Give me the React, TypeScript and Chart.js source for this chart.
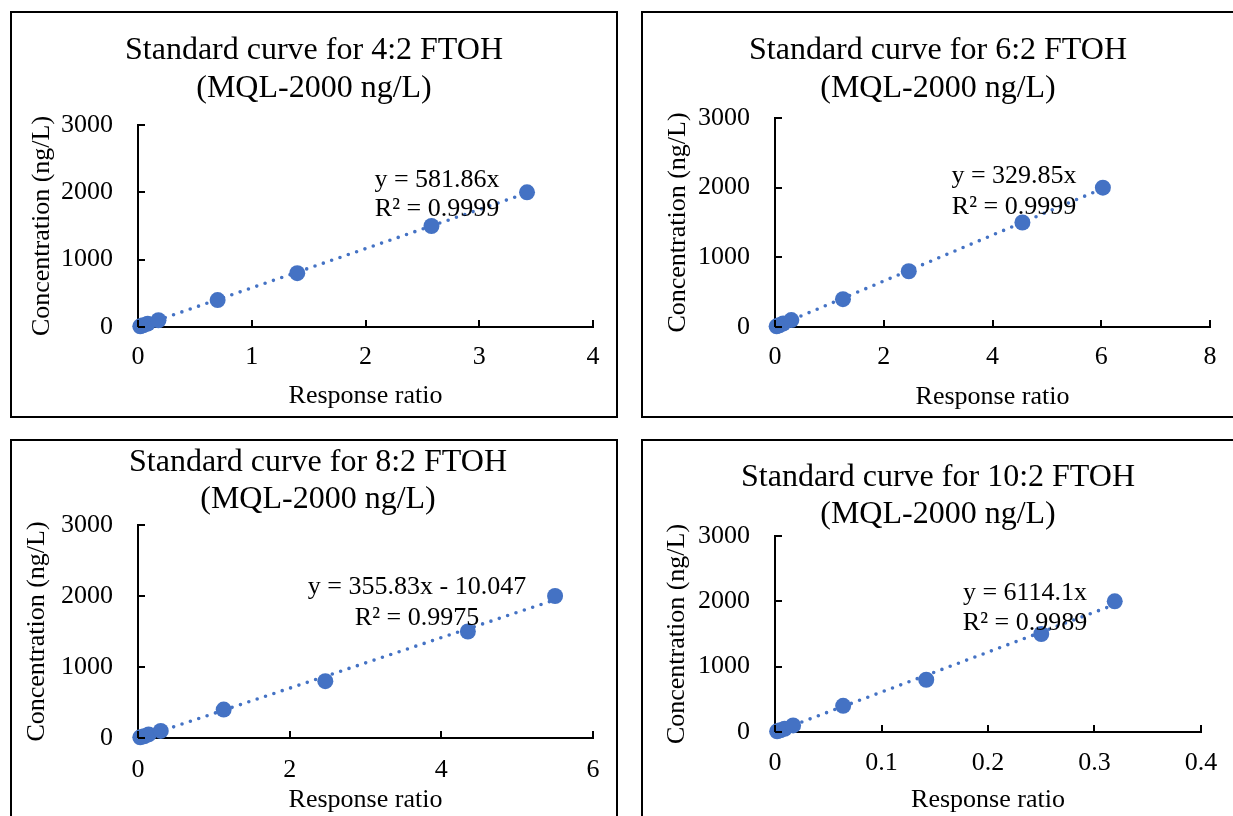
import React, { useEffect, useRef } from 'react';
import { Chart, registerables } from 'chart.js';

Chart.register(...registerables);

// ---------- data ----------
const concentrations = [10, 25, 50, 100, 400, 800, 1500, 2000];

const ratio42 = [0.02, 0.045, 0.085, 0.18, 0.70, 1.40, 2.58, 3.42];
const ratio62 = [0.03, 0.08, 0.15, 0.30, 1.25, 2.46, 4.55, 6.03];
const ratio82 = [0.03, 0.08, 0.14, 0.30, 1.13, 2.47, 4.35, 5.50];
const ratio102 = [0.002, 0.005, 0.009, 0.017, 0.064, 0.142, 0.25, 0.319];

const slopes = [581.86, 329.85, 355.83, 6114.1];
const intercepts = [0, 0, -10.047, 0];

const titleLines42 = ['Standard curve for 4:2 FTOH', '(MQL-2000 ng/L)'];
const titleLines62 = ['Standard curve for 6:2 FTOH', '(MQL-2000 ng/L)'];
const titleLines82 = ['Standard curve for 8:2 FTOH', '(MQL-2000 ng/L)'];
const titleLines102 = ['Standard curve for 10:2 FTOH', '(MQL-2000 ng/L)'];

const eqLines42 = ['y = 581.86x', 'R² = 0.9999'];
const eqLines62 = ['y = 329.85x', 'R² = 0.9999'];
const eqLines82 = ['y = 355.83x - 10.047', 'R² = 0.9975'];
const eqLines102 = ['y = 6114.1x', 'R² = 0.9989'];

const xTicks42 = [0, 1, 2, 3, 4];
const xTickLabels42 = ['0', '1', '2', '3', '4'];
const xTicks62 = [0, 2, 4, 6, 8];
const xTickLabels62 = ['0', '2', '4', '6', '8'];
const xTicks82 = [0, 2, 4, 6];
const xTickLabels82 = ['0', '2', '4', '6'];
const xTicks102 = [0, 0.1, 0.2, 0.3, 0.4];
const xTickLabels102 = ['0', '0.1', '0.2', '0.3', '0.4'];

const yTicks = [0, 1000, 2000, 3000];
const yTickLabels = ['0', '1000', '2000', '3000'];

const xAxisTitle = 'Response ratio';
const yAxisTitle = 'Concentration (ng/L)';

// ---------- styling / layout ----------
const BLUE = '#4472C4';
const FAMILY = '"Times New Roman", "Liberation Serif", serif';

type Spec = {
  box: { left: number; top: number; width: number; height: number };
  chart: { left: number; right: number; top: number; bottom: number };
  ratios: number[];
  slope: number;
  intercept: number;
  title: string[];
  titleX: number;
  titleY: number[];
  eq: string[];
  eqX: number;
  eqY: number[];
  xTicks: number[];
  xTickLabels: string[];
  xTickPad: number;
  xTitlePad: number;
  yTitlePad: number;
};

const specs: Spec[] = [
  {
    box: { left: 10, top: 11, width: 608, height: 407 },
    chart: { left: 126, right: 581, top: 112, bottom: 314 },
    ratios: ratio42, slope: slopes[0], intercept: intercepts[0],
    title: titleLines42, titleX: 302, titleY: [38, 76],
    eq: eqLines42, eqX: 425, eqY: [167, 196],
    xTicks: xTicks42, xTickLabels: xTickLabels42,
    xTickPad: 15, xTitlePad: 4, yTitlePad: 15,
  },
  {
    box: { left: 641, top: 11, width: 596, height: 407 },
    chart: { left: 132, right: 567, top: 105, bottom: 314 },
    ratios: ratio62, slope: slopes[1], intercept: intercepts[1],
    title: titleLines62, titleX: 295, titleY: [38, 76],
    eq: eqLines62, eqX: 371, eqY: [163, 194],
    xTicks: xTicks62, xTickLabels: xTickLabels62,
    xTickPad: 15, xTitlePad: 3, yTitlePad: 20,
  },
  {
    box: { left: 10, top: 439, width: 608, height: 407 },
    chart: { left: 126, right: 581, top: 84, bottom: 297 },
    ratios: ratio82, slope: slopes[2], intercept: intercepts[2],
    title: titleLines82, titleX: 306, titleY: [22, 59],
    eq: eqLines82, eqX: 405, eqY: [146, 177],
    xTicks: xTicks82, xTickLabels: xTickLabels82,
    xTickPad: 16.5, xTitlePad: 28, yTitlePad: 10,
  },
  {
    box: { left: 641, top: 439, width: 596, height: 407 },
    chart: { left: 132, right: 558, top: 95, bottom: 291 },
    ratios: ratio102, slope: slopes[3], intercept: intercepts[3],
    title: titleLines102, titleX: 295, titleY: [37, 73.5],
    eq: eqLines102, eqX: 382, eqY: [152, 182],
    xTicks: xTicks102, xTickLabels: xTickLabels102,
    xTickPad: 16, xTitlePad: 28, yTitlePad: 19,
  },
];

function Panel({ spec }: { spec: Spec }) {
  const ref = useRef<HTMLCanvasElement>(null);
  const W = spec.box.width - 4;
  const H = spec.box.height - 4;

  useEffect(() => {
    const canvas = ref.current;
    if (!canvas) return;
    const c = spec.chart;
    const pts = spec.ratios.map((x, i) => ({ x, y: concentrations[i] }));
    const xMin = Math.min(...spec.ratios);
    const xMax = Math.max(...spec.ratios);
    const trend = [
      { x: xMin, y: spec.slope * xMin + spec.intercept },
      { x: xMax, y: spec.slope * xMax + spec.intercept },
    ];
    const bodyFont = { family: FAMILY, size: 26, lineHeight: 1.2 };

    const overlay = {
      id: 'overlay' + spec.box.left + spec.box.top,
      afterDraw(chart: any) {
        const { ctx, chartArea, scales } = chart;
        ctx.save();
        ctx.strokeStyle = '#000';
        ctx.lineWidth = 2;
        // inside tick marks
        scales.x.ticks.forEach((t: any) => {
          const px = Math.round(scales.x.getPixelForValue(t.value));
          ctx.beginPath();
          ctx.moveTo(px, chartArea.bottom);
          ctx.lineTo(px, chartArea.bottom - 7);
          ctx.stroke();
        });
        scales.y.ticks.forEach((t: any) => {
          const py = Math.round(scales.y.getPixelForValue(t.value));
          ctx.beginPath();
          ctx.moveTo(chartArea.left, py);
          ctx.lineTo(chartArea.left + 7, py);
          ctx.stroke();
        });
        // chart title
        ctx.fillStyle = '#000';
        ctx.textAlign = 'center';
        ctx.textBaseline = 'middle';
        ctx.font = `32px ${FAMILY}`;
        spec.title.forEach((line, i) => ctx.fillText(line, spec.titleX, spec.titleY[i]));
        // trendline equation
        ctx.font = `26px ${FAMILY}`;
        spec.eq.forEach((line, i) => ctx.fillText(line, spec.eqX, spec.eqY[i]));
        ctx.restore();
      },
    };

    const chart = new Chart(canvas, {
      type: 'scatter',
      data: {
        datasets: [
          {
            data: pts,
            backgroundColor: BLUE,
            borderColor: BLUE,
            borderWidth: 0,
            pointRadius: 8,
            pointHoverRadius: 8,
            clip: false,
            order: 1,
          } as any,
          {
            data: trend,
            showLine: true,
            borderColor: BLUE,
            borderWidth: 3.6,
            borderDash: [0, 8.8],
            borderCapStyle: 'round',
            pointRadius: 0,
            pointHoverRadius: 0,
            fill: false,
            clip: false,
            order: 2,
          } as any,
        ],
      },
      options: {
        responsive: false,
        animation: false,
        devicePixelRatio: 1,
        events: [],
        layout: { padding: { left: 0, top: c.top, right: W - c.right, bottom: 0 } },
        plugins: {
          legend: { display: false },
          tooltip: { enabled: false },
          title: { display: false },
        },
        scales: {
          x: {
            type: 'linear',
            position: 'bottom',
            min: spec.xTicks[0],
            max: spec.xTicks[spec.xTicks.length - 1],
            grid: { display: false, drawTicks: false },
            border: { display: true, color: '#000', width: 2 },
            ticks: {
              color: '#000',
              font: bodyFont,
              padding: spec.xTickPad,
              autoSkip: false,
              maxRotation: 0,
              minRotation: 0,
              callback: (_v: any, i: number) => spec.xTickLabels[i],
            },
            afterBuildTicks: (s: any) => {
              s.ticks = spec.xTicks.map((v) => ({ value: v }));
            },
            afterFit: (s: any) => {
              s.height = H - c.bottom;
            },
            title: {
              display: true,
              text: xAxisTitle,
              color: '#000',
              font: bodyFont,
              padding: { top: 0, bottom: spec.xTitlePad },
            },
          },
          y: {
            type: 'linear',
            position: 'left',
            min: yTicks[0],
            max: yTicks[yTicks.length - 1],
            grid: { display: false, drawTicks: false },
            border: { display: true, color: '#000', width: 2 },
            ticks: {
              color: '#000',
              font: bodyFont,
              padding: 25,
              callback: (_v: any, i: number) => yTickLabels[i],
            },
            afterBuildTicks: (s: any) => {
              s.ticks = yTicks.map((v) => ({ value: v }));
            },
            afterFit: (s: any) => {
              s.width = c.left;
            },
            title: {
              display: true,
              text: yAxisTitle,
              color: '#000',
              font: bodyFont,
              padding: { top: spec.yTitlePad, bottom: 0 },
            },
          },
        },
      } as any,
      plugins: [overlay],
    });
    return () => chart.destroy();
  }, [spec]);

  return (
    <div
      style={{
        position: 'absolute',
        left: spec.box.left,
        top: spec.box.top,
        width: spec.box.width,
        height: spec.box.height,
        border: '2px solid #000',
        boxSizing: 'border-box',
        background: '#fff',
      }}
    >
      <canvas ref={ref} width={W} height={H} style={{ display: 'block', width: W, height: H }} />
    </div>
  );
}

export default function App() {
  return (
    <div
      style={{
        position: 'fixed',
        left: 0,
        top: 0,
        width: 1233,
        height: 816,
        overflow: 'hidden',
        background: '#fff',
      }}
    >
      {specs.map((s, i) => (
        <Panel key={i} spec={s} />
      ))}
    </div>
  );
}
